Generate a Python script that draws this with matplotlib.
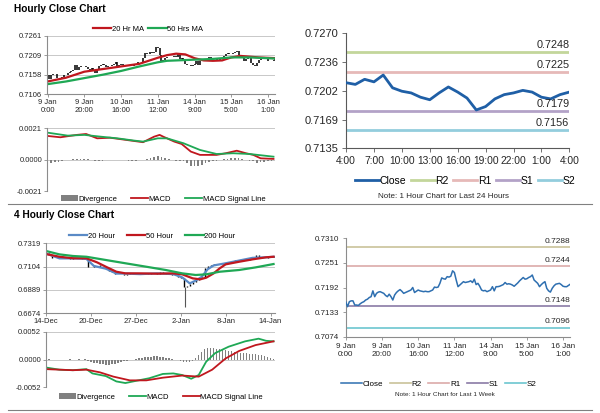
import matplotlib.pyplot as plt
from matplotlib.lines import Line2D

plt.rcParams['font.family'] = ['Liberation Sans', 'DejaVu Sans']

# hourly closes, 9 Jan 0:00 -> 16 Jan 4:00 (one value per trading hour)
hourly_close = [
    0.7158, 0.7146, 0.7158, 0.7160, 0.7160, 0.7150, 0.7150, 0.7149, 0.7153, 0.7156,
    0.7158, 0.7162, 0.7164, 0.7168, 0.7170, 0.7184, 0.7170, 0.7178, 0.7181, 0.7182,
    0.7180, 0.7178, 0.7173, 0.7170, 0.7176, 0.7170, 0.7162, 0.7174, 0.7180, 0.7184,
    0.7187, 0.7183, 0.7178, 0.7180, 0.7182, 0.7184, 0.7186, 0.7192, 0.7180, 0.7183,
    0.7186, 0.7184, 0.7183, 0.7182, 0.7183, 0.7182, 0.7182, 0.7184, 0.7186, 0.7193,
    0.7192, 0.7193, 0.7202, 0.7215, 0.7213, 0.7212, 0.7218, 0.7217, 0.7219, 0.7232,
    0.7228, 0.7210, 0.7194, 0.7198, 0.7202, 0.7206, 0.7204, 0.7205, 0.7206, 0.7208,
    0.7204, 0.7212, 0.7199, 0.7202, 0.7195, 0.7186, 0.7184, 0.7185, 0.7182, 0.7184,
    0.7186, 0.7194, 0.7184, 0.7194, 0.7194, 0.7195, 0.7197, 0.7199, 0.7204, 0.7200,
    0.7201, 0.7200, 0.7198, 0.7195, 0.7199, 0.7203, 0.7208, 0.7212, 0.7216, 0.7212,
    0.7213, 0.7216, 0.7218, 0.7222, 0.7210, 0.7206, 0.7202, 0.7194, 0.7199, 0.7203,
    0.7206, 0.7190, 0.7184, 0.7181, 0.7190, 0.7196, 0.7200, 0.7201, 0.7202, 0.7199,
    0.7195, 0.7194, 0.7194, 0.7197, 0.7200]
hourly_ticks = [0, 20, 40, 60, 80, 100, 120]
hourly_labels = ['9 Jan\n0:00', '9 Jan\n20:00', '10 Jan\n16:00', '11 Jan\n12:00',
                 '14 Jan\n9:00', '15 Jan\n5:00', '16 Jan\n1:00']

ma_hours = [0, 10, 20, 30, 40, 50, 60, 65, 70, 75, 80, 85, 90, 95, 100, 105, 110, 115, 124]
ma20 = [0.7140, 0.7150, 0.7166, 0.7173, 0.7180, 0.7187, 0.7203, 0.7210, 0.7214, 0.7212,
        0.7202, 0.7196, 0.7195, 0.7196, 0.7204, 0.7208, 0.7206, 0.7204, 0.7202]
ma50 = [0.7133, 0.7140, 0.7149, 0.7158, 0.7168, 0.7180, 0.7191, 0.7195, 0.7196, 0.7197,
        0.7198, 0.7199, 0.7200, 0.7202, 0.7204, 0.7204, 0.7204, 0.7203, 0.7201]

macd_hours = [0, 7, 16, 21, 27, 34, 43, 52, 58, 61, 63, 69, 73, 78, 83, 92, 97, 103, 108, 112, 116, 123]
macd_h = [0.00159, 0.00150, 0.00166, 0.00172, 0.00143, 0.00147, 0.00132, 0.00117, 0.00154, 0.00166,
          0.00154, 0.00121, 0.00105, 0.00054, 0.00032, 0.00032, 0.00043, 0.00060, 0.00043, 0.00032,
          0.00009, 0.00005]
signal_hours = [0, 11, 20, 29, 38, 47, 52, 60, 65, 74, 83, 92, 101, 110, 123]
signal_h = [0.00181, 0.00161, 0.00166, 0.00154, 0.00143, 0.00128, 0.00121, 0.00143, 0.00143,
            0.00110, 0.00065, 0.00038, 0.00043, 0.00038, 0.00020]
# divergence every 2 hours
div_h = [-0.00022, -0.0002, -0.00018, -0.00015, -0.0001, -0.00005, 0, 0.00003, 0.00005, 0.00006,
         0.00006, 0.00003, -0.00002, -0.00006, -0.00008, -0.00006, -0.00004, -0.00002, -0.00002, -0.00004,
         -0.00005, -0.00005, -0.00006, -0.00006, -0.00006, -0.00005, -0.00003, 0.00005, 0.00012, 0.00018,
         0.00024, 0.0002, 0.0001, 0.00002, -0.00005, -0.00008, -0.00008, -0.0001, -0.00025, -0.0004,
         -0.00045, -0.0004, -0.00033, -0.00025, -0.00015, -0.00008, -0.00006, -0.00002, 0.00002, 0.00006,
         0.0001, 0.00014, 0.0001, 0.00004, -0.00002, -0.00008, -0.00012, -0.0002, -0.00018, -0.00016,
         -0.00012, -0.0001, -0.00008]

# last 24 hours
day_close = [0.7212, 0.7210, 0.7216, 0.7213, 0.7221, 0.7206, 0.7202, 0.7200, 0.7195, 0.7192,
             0.7200, 0.7207, 0.7201, 0.7194, 0.7180, 0.7184, 0.7193, 0.7198, 0.7200, 0.7203,
             0.7201, 0.7195, 0.7193, 0.7198, 0.7201]
day_labels = ['4:00', '7:00', '10:00', '13:00', '16:00', '19:00', '22:00', '1:00', '4:00']
level_names = ['R2', 'R1', 'S1', 'S2']
day_levels = [0.7248, 0.7225, 0.7179, 0.7156]
week_levels = [0.7288, 0.7244, 0.7148, 0.7096]

# 4 hourly closes, every second bar from 14 Dec
close_4h = [0.7230, 0.7215, 0.7185, 0.7180, 0.7188, 0.7182, 0.7180, 0.7185, 0.7178, 0.7182,
            0.7180, 0.7183, 0.7178, 0.7182, 0.7105, 0.7100, 0.7120, 0.7115, 0.7100, 0.7092,
            0.7085, 0.7060, 0.7050, 0.7038, 0.7035, 0.7040, 0.7030, 0.7040, 0.7045, 0.7040,
            0.7048, 0.7035, 0.7040, 0.7043, 0.7038, 0.7045, 0.7048, 0.7040, 0.7050, 0.7045,
            0.7038, 0.7042, 0.7030, 0.7025, 0.7010, 0.7000, 0.6920, 0.6930, 0.6945, 0.6965,
            0.6980, 0.7000, 0.7010, 0.7090, 0.7110, 0.7120, 0.7130, 0.7125, 0.7130, 0.7140,
            0.7135, 0.7150, 0.7155, 0.7165, 0.7160, 0.7170, 0.7175, 0.7168, 0.7180, 0.7190,
            0.7210, 0.7195, 0.7185, 0.7188, 0.7192, 0.7190, 0.7200]
crash_bar = 93
crash_low = 0.6735
ticks_4h = [0, 30, 60, 90, 120, 150]
labels_4h = ['14-Dec', '20-Dec', '27-Dec', '2-Jan', '8-Jan', '14-Jan']

ma4_20_bars = [0, 9, 18, 27, 32, 40, 47, 53, 63, 74, 85, 91, 96, 100, 104, 108, 112, 120, 129, 138, 147, 152]
ma4_20 = [0.7225, 0.7180, 0.7180, 0.7175, 0.7110, 0.7085, 0.7040, 0.7040, 0.7035, 0.7042, 0.7035,
          0.7005, 0.6950, 0.6975, 0.7010, 0.7080, 0.7115, 0.7135, 0.7160, 0.7185, 0.7190, 0.7195]
ma4_50_bars = [0, 9, 18, 27, 34, 40, 47, 53, 63, 74, 85, 91, 98, 103, 107, 112, 116, 120, 129, 138, 147, 152]
ma4_50 = [0.7220, 0.7195, 0.7181, 0.7181, 0.7144, 0.7103, 0.7057, 0.7042, 0.7042, 0.7039, 0.7042,
          0.7033, 0.6996, 0.6987, 0.7002, 0.7042, 0.7088, 0.7125, 0.7149, 0.7171, 0.7190, 0.7195]
ma4_200_bars = [0, 9, 18, 27, 40, 53, 67, 80, 91, 100, 107, 116, 129, 140, 152]
ma4_200 = [0.7248, 0.7217, 0.7202, 0.7195, 0.7165, 0.7135, 0.7103, 0.7073, 0.7042, 0.7027,
           0.7033, 0.7057, 0.7073, 0.7097, 0.7128]

macd4_bars = [0, 9, 18, 27, 31, 40, 47, 53, 60, 69, 78, 85, 91, 97, 102, 107, 113, 122, 133, 142, 147, 152]
macd4 = [-0.0015, -0.0019, -0.0020, -0.0018, -0.0026, -0.0031, -0.0041, -0.0044, -0.0040, -0.0035,
         -0.0027, -0.0026, -0.0029, -0.0036, -0.0029, -0.0004, 0.0012, 0.0024, 0.0034, 0.0039,
         0.0035, 0.0034]
sig4_bars = [0, 9, 18, 27, 36, 45, 56, 67, 78, 91, 102, 111, 120, 129, 140, 152]
sig4 = [-0.0018, -0.0019, -0.0020, -0.0019, -0.0024, -0.0032, -0.0039, -0.0039, -0.0034, -0.0030,
        -0.0032, -0.0019, 0.0002, 0.0016, 0.0027, 0.0034]
div_4h = [0.0002, 0.0001, 0, -0.0001, -0.0001, -0.0001, 0, 0, 0.0001, 0, 0, 0.0001, 0, 0.0001,
          -0.0002, -0.0005, -0.0006, -0.0007, -0.0008, -0.0009, -0.0010, -0.0010, -0.0009, -0.0008,
          -0.0007, -0.0005, -0.0003, -0.0002, -0.0001, 0,
          0.0001, 0.0002, 0.0003, 0.0004, 0.0005, 0.0005, 0.0006, 0.0006, 0.0005, 0.0004,
          0.0003, 0.0002, 0.0001, 0, -0.0001, -0.0002,
          -0.0004, -0.0005, -0.0004, -0.0002,
          0.0002, 0.0008, 0.0014, 0.0019, 0.0021, 0.0022, 0.0021, 0.0020, 0.0019, 0.0018,
          0.0017, 0.0016, 0.0015, 0.0014, 0.0013, 0.0013, 0.0012, 0.0012, 0.0011, 0.0011,
          0.0010, 0.0009, 0.0008, 0.0006, 0.0004, 0.0002, 0.0001]

RED = '#c0171e'
GREEN = '#1fa855'
GREY = '#808080'
AXC = '#8c8c8c'
TXT = '#262626'


def style(ax, fs, grid=True):
    ax.spines['top'].set_visible(False)
    ax.spines['right'].set_visible(False)
    ax.spines['left'].set_color(AXC)
    ax.spines['bottom'].set_color(AXC)
    ax.tick_params(labelsize=fs, length=2, width=0.6, color=AXC, labelcolor=TXT, pad=1.5)
    if grid:
        ax.yaxis.grid(True, color='#bfbfbf', lw=0.6)
        ax.set_axisbelow(True)


def candles(ax, xs, closes, lw):
    lo = [min(a, b) for a, b in zip(closes[:-1], closes[1:])]
    hi = [max(a, b) for a, b in zip(closes[:-1], closes[1:])]
    ax.vlines(xs[1:], lo, hi, color='black', lw=lw)


def macd_legend(ax, x, y):
    # put the divergence bars first, like the original
    h, l = ax.get_legend_handles_labels()
    ax.legend([h[-1]] + h[:-1], [l[-1]] + l[:-1], loc='center', bbox_to_anchor=(x, y), ncol=3,
              frameon=False, fontsize=5.5, handlelength=2.2, handletextpad=0.1,
              columnspacing=1.8, borderaxespad=0)


fig = plt.figure(figsize=(6, 4.13), dpi=100)

fig.text(14 / 600, 1 - 9 / 413, 'Hourly Close Chart', fontsize=7.3, fontweight='bold', va='center')
fig.text(14 / 600, 1 - 215 / 413, '4 Hourly Close Chart', fontsize=7.3, fontweight='bold', va='center')
fig.add_artist(Line2D([8 / 600, 592 / 600], [1 - 204 / 413] * 2, color=GREY, lw=0.8))
fig.add_artist(Line2D([8 / 600, 592 / 600], [1 - 410 / 413] * 2, color=GREY, lw=0.8))

# --- hourly price with MAs
hours = list(range(len(hourly_close)))
ax1 = fig.add_axes([0.0783, 0.7717, 0.38, 0.1412])
candles(ax1, hours, hourly_close, 1.1)
ax1.plot(ma_hours, ma20, color=RED, lw=1.6, label='20 Hr MA')
ax1.plot(ma_hours, ma50, color=GREEN, lw=1.6, label='50 Hrs MA')
ax1.set_xlim(-0.3, 123.8)
ax1.set_ylim(0.7106, 0.7261)
ax1.set_yticks([0.7106, 0.71577, 0.72093, 0.7261], ['0.7106', '0.7158', '0.7209', '0.7261'])
ax1.set_xticks(hourly_ticks, hourly_labels)
style(ax1, 5.5)
ax1.legend(loc='center', bbox_to_anchor=(0.443, 1.12), ncol=2, frameon=False, fontsize=5.5,
           handlelength=2.4, handletextpad=0.1, columnspacing=0.6, borderaxespad=0)

# --- hourly MACD
ax2 = fig.add_axes([0.0783, 0.5375, 0.38, 0.1518])
ax2.bar(list(range(0, 125, 2)), div_h, width=0.9, color=GREY, label='Divergence')
ax2.plot(macd_hours, macd_h, color=RED, lw=1.3, label='MACD')
ax2.plot(signal_hours, signal_h, color=GREEN, lw=1.3, label='MACD Signal Line')
ax2.set_xlim(-0.3, 123.8)
ax2.set_ylim(-0.0021, 0.0021)
ax2.set_yticks([-0.0021, 0, 0.0021], ['-0.0021', '0.0000', '0.0021'])
ax2.set_xticks([])
style(ax2, 5.5)
ax2.spines['bottom'].set_visible(False)
macd_legend(ax2, 0.509, -0.128)

# --- last 24 hours with pivots
day_colors = ['#c3d69b', '#e6b9b8', '#b3a2c7', '#93cddd']
ax3 = fig.add_axes([0.5767, 0.6409, 0.3722, 0.2785])
ax3.plot(list(range(len(day_close))), day_close, color='#1f5fa6', lw=2.0, label='Close', zorder=3)
for name, lvl, col in zip(level_names, day_levels, day_colors):
    ax3.axhline(lvl, color=col, lw=2.0, label=name)
    ax3.annotate('%.4f' % lvl, (24, lvl), xytext=(0, 1.5), textcoords='offset points',
                 ha='right', va='bottom', fontsize=7.8, color=TXT)
ax3.set_xlim(0, 24)
ax3.set_ylim(0.7135, 0.7270)
ax3.set_yticks([0.7135, 0.716875, 0.72025, 0.723625, 0.7270],
               ['0.7135', '0.7169', '0.7202', '0.7236', '0.7270'])
ax3.set_xticks(list(range(0, 25, 3)), day_labels)
style(ax3, 8, grid=False)
ax3.spines['left'].set_color('#595959')
ax3.spines['bottom'].set_color('#595959')
ax3.tick_params(length=3, color='#595959', pad=2.5)
ax3.tick_params(axis='x', labelsize=7.4)
ax3.legend(loc='center', bbox_to_anchor=(0.533, -0.284), ncol=5, frameon=False, fontsize=7.5,
           handlelength=2.3, handletextpad=0.1, columnspacing=0.4, borderaxespad=0)
fig.text(444 / 600, 1 - 197 / 413, 'Note: 1 Hour Chart for Last 24 Hours', fontsize=5.8,
         ha='center', va='center', color=TXT)

# --- 4 hourly price with MAs
bars_4h = list(range(0, 153, 2))
ax4 = fig.add_axes([0.0767, 0.2414, 0.3817, 0.1695])
candles(ax4, bars_4h, close_4h, 1.0)
ax4.vlines(crash_bar, crash_low, min(close_4h), color='#555555', lw=0.8)
ax4.plot(ma4_20_bars, ma4_20, color='#5a8ac6', lw=1.6, label='20 Hour')
ax4.plot(ma4_50_bars, ma4_50, color=RED, lw=1.6, label='50 Hour')
ax4.plot(ma4_200_bars, ma4_200, color=GREEN, lw=1.6, label='200 Hour')
ax4.set_xlim(0, 153)
ax4.set_ylim(0.6674, 0.7319)
ax4.set_yticks([0.6674, 0.6889, 0.7104, 0.7319], ['0.6674', '0.6889', '0.7104', '0.7319'])
ax4.set_xticks(ticks_4h, labels_4h)
style(ax4, 5.5)
ax4.legend(loc='center', bbox_to_anchor=(0.463, 1.104), ncol=3, frameon=False, fontsize=5.5,
           handlelength=2.4, handletextpad=0.1, columnspacing=1.6, borderaxespad=0)

# --- 4 hourly MACD
ax5 = fig.add_axes([0.0767, 0.0622, 0.3817, 0.1346])
ax5.bar(bars_4h, div_4h, width=1.0, color=GREY, label='Divergence')
ax5.plot(macd4_bars, macd4, color=GREEN, lw=1.3, label='MACD')
ax5.plot(sig4_bars, sig4, color=RED, lw=1.3, label='MACD Signal Line')
ax5.set_xlim(0, 153)
ax5.set_ylim(-0.0052, 0.0052)
ax5.set_yticks([-0.0052, 0, 0.0052], ['-0.0052', '0.0000', '0.0052'])
ax5.set_xticks([])
style(ax5, 5.5)
ax5.spines['bottom'].set_visible(False)
macd_legend(ax5, 0.502, -0.174)

# --- last week hourly with pivots
week_colors = ['#c9c29a', '#dcaaa9', '#8a7aa6', '#6cc6d0']
ax6 = fig.add_axes([0.5762, 0.1847, 0.3743, 0.2383])
ax6.plot(hours, hourly_close, color='#2e6fb0', lw=1.1, label='Close', zorder=3)
for name, lvl, col in zip(level_names, week_levels, week_colors):
    ax6.axhline(lvl, color=col, lw=1.2, label=name)
    ax6.annotate('%.4f' % lvl, (124, lvl), xytext=(0, 1.5), textcoords='offset points',
                 ha='right', va='bottom', fontsize=6, color=TXT)
ax6.set_xlim(0, 124)
ax6.set_ylim(0.7074, 0.7310)
ax6.set_yticks([0.7074, 0.7133, 0.7192, 0.7251, 0.7310],
               ['0.7074', '0.7133', '0.7192', '0.7251', '0.7310'])
ax6.set_xticks(hourly_ticks, hourly_labels)
style(ax6, 5.8, grid=False)
ax6.tick_params(length=2.5, pad=2)
ax6.legend(loc='center', bbox_to_anchor=(0.415, -0.48), ncol=5, frameon=False, fontsize=5.8,
           handlelength=2.6, handletextpad=0.1, columnspacing=0.8, borderaxespad=0)
fig.text(444.5 / 600, 1 - 395 / 413, 'Note: 1 Hour Chart for Last 1 Week', fontsize=4.6,
         ha='center', va='center', color=TXT)

fig.savefig('out.png', dpi=100)
